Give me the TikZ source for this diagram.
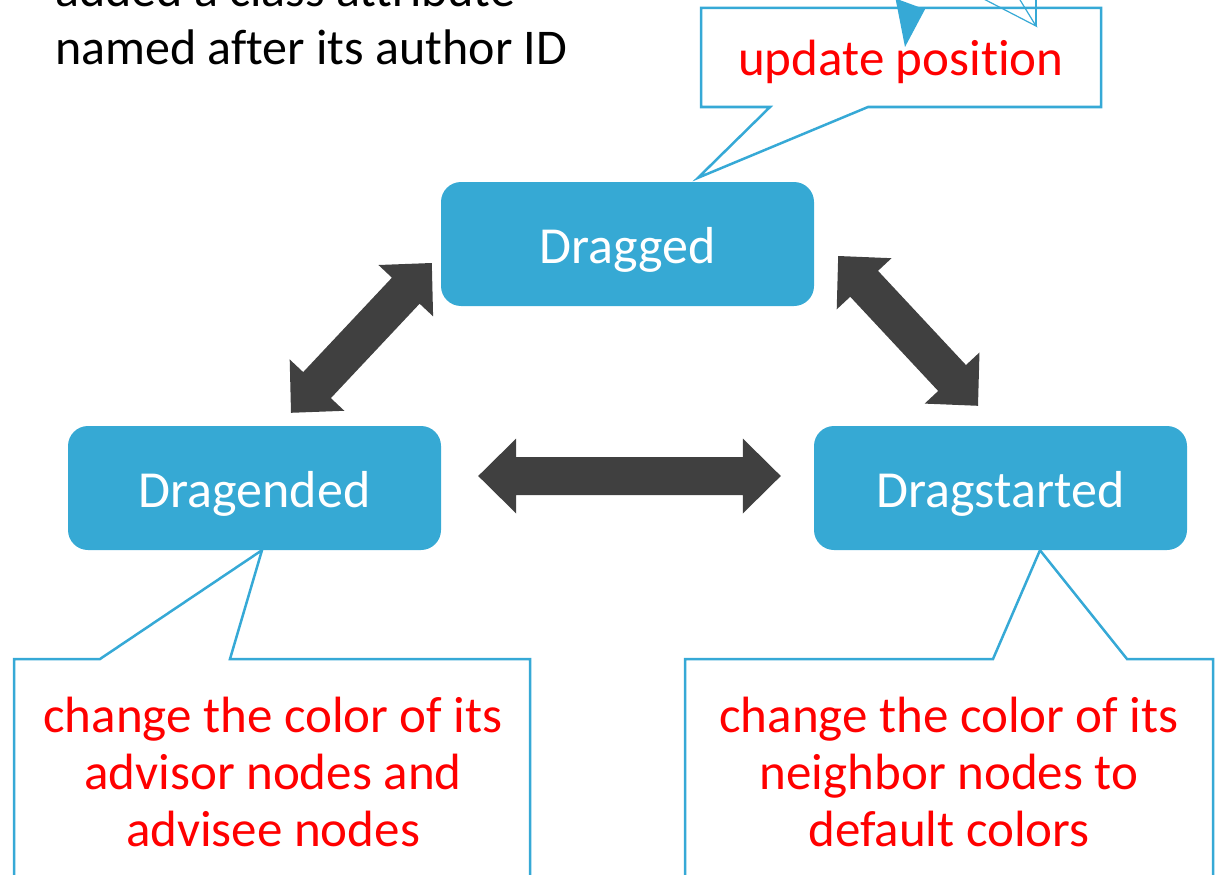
\documentclass[tikz,border=0pt]{standalone}
\usepackage{fontspec}
\setmainfont{Carlito}[Ligatures={NoCommon,NoContextual}]
\usetikzlibrary{calc}

\definecolor{boxblue}{RGB}{54,169,212}
\definecolor{lineblue}{RGB}{54,169,214}
\definecolor{arrowgray}{RGB}{64,64,64}
\definecolor{notered}{RGB}{255,0,0}

\tikzset{
  state/.style={fill=boxblue, rounded corners=20pt, minimum width=373pt,
    minimum height=124pt, inner sep=0pt, text=white,
    font=\fontsize{52}{60}\selectfont, text height=38pt, text depth=0pt},
  callout/.style={draw=lineblue, line width=2.5pt, fill=white},
  calltext/.style={text=notered, font=\fontsize{51}{57}\selectfont,
    align=center, inner sep=0pt, anchor=base},
  plaintext/.style={font=\fontsize{50}{57}\selectfont, inner sep=0pt,
    anchor=base west},
  thinmark/.style={draw=lineblue, line width=1.2pt},
}

% thick two-headed block arrow between two points (90 degree tips)
\newcommand\twowayarrow[2]{%
  \fill[arrowgray] (#1)
    -- ($(#1)!38pt!(#2)!37.5pt!90:(#2)$)
    -- ($(#1)!38pt!(#2)!19pt!90:(#2)$)
    -- ($(#2)!38pt!(#1)!19pt!-90:(#1)$)
    -- ($(#2)!38pt!(#1)!37.5pt!-90:(#1)$)
    -- (#2)
    -- ($(#2)!38pt!(#1)!37.5pt!90:(#1)$)
    -- ($(#2)!38pt!(#1)!19pt!90:(#1)$)
    -- ($(#1)!38pt!(#2)!19pt!-90:(#2)$)
    -- ($(#1)!38pt!(#2)!37.5pt!-90:(#2)$)
    -- cycle;}

\begin{document}
\begin{tikzpicture}[x=1pt,y=-1pt]
\useasboundingbox (0,0) rectangle (1219,875);
\clip (0,0) rectangle (1219,875);

% the three drag states
\node[state] (dragged) at (627.5,244) {Dragged};
\node[state] (ended)   at (254.5,488) {Dragended};
\node[state] (started) at (1000.5,488) {Dragstarted};

% end points of the transition arrows
\coordinate (h1) at ($(ended.east)+(37,-12)$);
\coordinate (h2) at ($(started.west)+(-33,-12)$);
\coordinate (l1) at ($(ended.north)+(36.5,-13)$);
\coordinate (l2) at ($(dragged.west)+(-9,19)$);
\coordinate (r1) at ($(dragged.east)+(24,12)$);
\coordinate (r2) at ($(started.north)+(-22.5,-20)$);

\twowayarrow{h1}{h2}
\twowayarrow{l1}{l2}
\twowayarrow{r1}{r2}

% callout for the dragged state
\coordinate (tipD) at ($(dragged.north)+(70.5,-4)$);
\draw[callout] (701,8) -- (1101,8) -- (1101,107) -- (868,107) -- (tipD)
  -- (770,107) -- (701,107) -- cycle;
\node[calltext] (upd) at (901,76) {update position};

% marks of the callout above
\fill[lineblue] (895.5,-1.5) -- (925,9.3) -- (905,47) -- cycle;
\coordinate (tipT) at (1036,26);
\draw[thinmark] (976,-5) -- (tipT) -- (1017,-5);
\draw[thinmark] (tipT) -- (1036,-5);

% callout for the drag-end state
\coordinate (tipE) at ($(ended.south)+(7.5,0)$);
\draw[callout] (14,659) -- (100,659) -- (tipE) -- (230,659) -- (530,659)
  -- (530,890) -- (14,890) -- cycle;
\node[calltext] (endnote) at (273,846)
  {change the color of its\\advisor nodes and\\advisee nodes};

% callout for the drag-start state
\coordinate (tipS) at ($(started.south)+(39.5,0)$);
\draw[callout] (685,659) -- (993,659) -- (tipS) -- (1127,659) -- (1213,659)
  -- (1213,890) -- (685,890) -- cycle;
\node[calltext] (startnote) at (949,846)
  {change the color of its\\neighbor nodes to\\default colors};

% note at the top left
\node[plaintext] (noteA) at (55,7) {added a class attribute};
\node[plaintext] (noteB) at (55,65) {named after its author ID};
\end{tikzpicture}
\end{document}
